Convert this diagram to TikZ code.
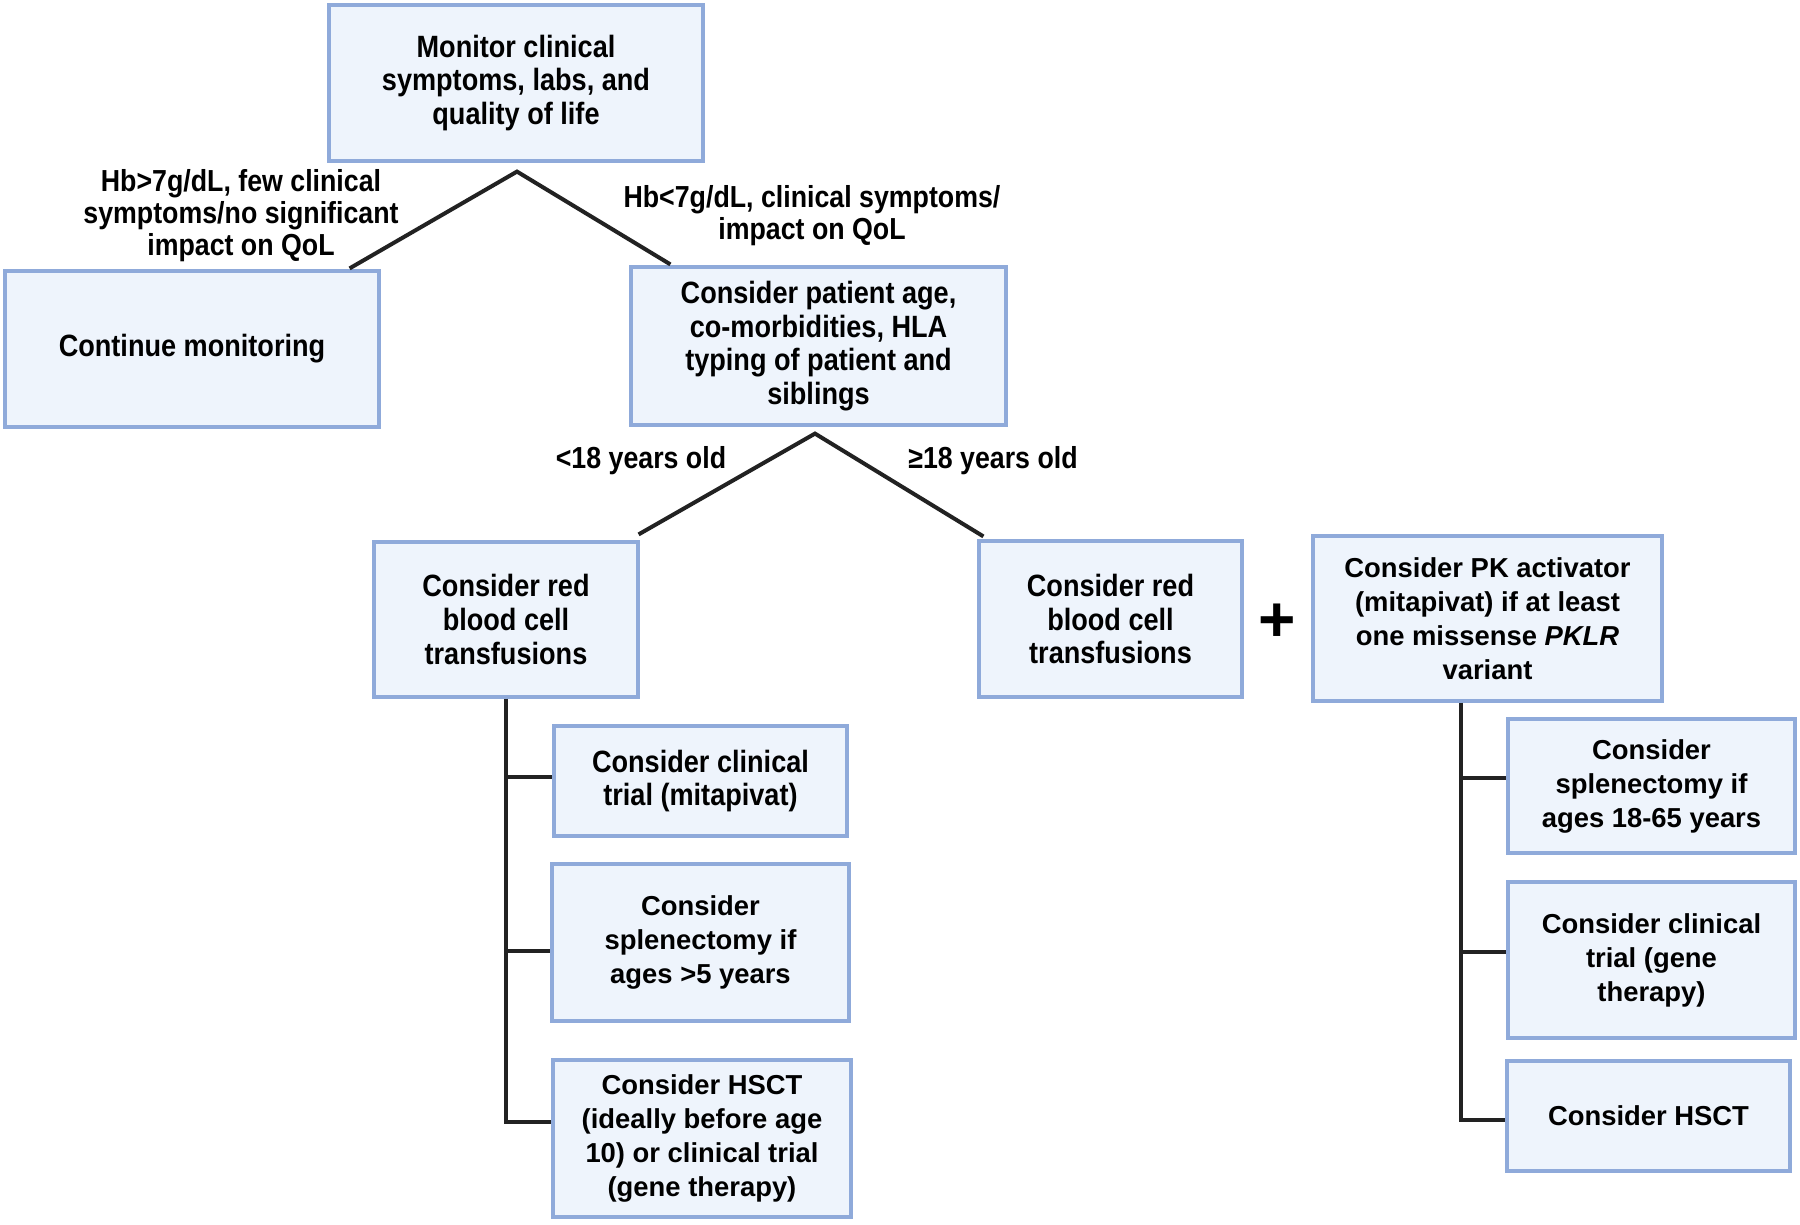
\documentclass[tikz,border=0pt]{standalone}
\usepackage{fontspec}
\setmainfont{Liberation Sans}
\newfontfamily\condfont{Liberation Sans}[FakeStretch=0.88]
\usetikzlibrary{calc}
\definecolor{boxfill}{HTML}{EEF4FC}
\definecolor{boxline}{HTML}{8FAADA}
\definecolor{linecol}{HTML}{222222}
\begin{document}
\begin{tikzpicture}[x=0.5pt,y=-0.5pt,
  tbox/.style={draw=boxline, fill=boxfill, line width=1.6pt, rectangle, inner sep=0pt, align=center,
    font=\fontsize{13.7}{17}\selectfont\bfseries},
  cbox/.style={tbox, font=\condfont\fontsize{15.4}{16.8}\selectfont\bfseries},
  lbl/.style={align=center, inner sep=0pt, font=\condfont\fontsize{15.2}{16}\selectfont\bfseries},
  conn/.style={draw=linecol, line width=2pt}]
\useasboundingbox[fill=white] (0,0) rectangle (1800,1225);

% boxes
\node[cbox, minimum width=187pt, minimum height=78pt] (top) at (516,83)
  {Monitor clinical\\symptoms, labs, and\\quality of life};
\node[cbox, minimum width=187pt, minimum height=78pt] (cont) at (192,349)
  {Continue monitoring};
\node[cbox, minimum width=187.5pt, minimum height=79pt] (cons) at (818.5,346)
  {Consider patient age,\\co-morbidities, HLA\\typing of patient and\\siblings};
\node[cbox, minimum width=132pt, minimum height=77.5pt] (rbcL) at (506,619.5)
  {Consider red\\blood cell\\transfusions};
\node[cbox, minimum width=131.5pt, minimum height=78pt] (rbcR) at (1110.5,619)
  {Consider red\\blood cell\\transfusions};
\node[tbox, minimum width=174.5pt, minimum height=82.5pt] (pk) at (1487.5,618.5)
  {Consider PK activator\\(mitapivat) if at least\\one missense \textit{PKLR}\\variant};
\node[font=\fontsize{32}{32}\selectfont\bfseries, inner sep=0pt] (plus) at (1277,623) {+};

\node[cbox, minimum width=146.5pt, minimum height=55pt] (L1) at (700.5,781)
  {Consider clinical\\trial (mitapivat)};
\node[tbox, minimum width=148.5pt, minimum height=78.5pt] (L2) at (700.5,942.5)
  {Consider\\splenectomy if\\ages >5 years};
\node[tbox, minimum width=149pt, minimum height=78.5pt] (L3) at (702,1138.5)
  {Consider HSCT\\(ideally before age\\10) or clinical trial\\(gene therapy)};

\node[tbox, minimum width=143.5pt, minimum height=67pt] (R1) at (1651.5,786)
  {Consider\\splenectomy if\\ages 18-65 years};
\node[tbox, minimum width=143.5pt, minimum height=78pt] (R2) at (1651.5,960)
  {Consider clinical\\trial (gene\\therapy)};
\node[tbox, minimum width=141.5pt, minimum height=55pt] (R3) at (1648.5,1116)
  {Consider HSCT};

% labels
\node[lbl] (lab1) at (241,216) {Hb>7g/dL, few clinical\\symptoms/no significant\\impact on QoL};
\node[lbl] (lab2) at (812,216) {Hb<7g/dL, clinical symptoms/\\impact on QoL};
\node[lbl] (lab3) at (641,461) {<18 years old};
\node[lbl] (lab4) at (993,461) {≥18 years old};

% connectors
\coordinate (p1) at ($(top.south)+(1,9)$);
\coordinate (p2) at ($(cons.south)+(-3.5,7)$);
\draw[conn] ([xshift=-15.5pt,yshift=0.5pt]cont.north east) -- (p1) -- ([xshift=20.5pt,yshift=0.5pt]cons.north west);
\draw[conn] ([xshift=-0.5pt,yshift=3pt]rbcL.north east) -- (p2) -- ([xshift=3pt,yshift=1.5pt]rbcR.north west);

\coordinate (jL1) at ($(L1.west)+(0,-4)$);
\coordinate (jL2) at ($(L2.west)+(0,8.5)$);
\coordinate (jL3) at ($(L3.west)+(0,-16.5)$);
\draw[conn] (rbcL.south) |- (jL3);
\draw[conn] (jL1 -| rbcL.south) -- (jL1);
\draw[conn] (jL2 -| rbcL.south) -- (jL2);

\coordinate (tR) at ($(pk.south)+(-26.5,0)$);
\coordinate (jR1) at ($(R1.west)+(0,-8)$);
\coordinate (jR2) at ($(R2.west)+(0,-8)$);
\coordinate (jR3) at ($(R3.west)+(0,4)$);
\draw[conn] (tR) |- (jR3);
\draw[conn] (jR1 -| tR) -- (jR1);
\draw[conn] (jR2 -| tR) -- (jR2);
\end{tikzpicture}
\end{document}
